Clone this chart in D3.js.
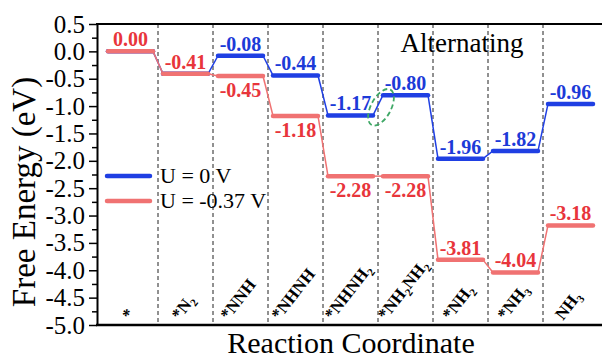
<!DOCTYPE html>
<html>
<head>
<meta charset="utf-8">
<script src="https://cdn.jsdelivr.net/npm/d3@7"></script>
<style>
  html, body { margin: 0; padding: 0; background: #fff; }
  svg { display: block; }
  svg text { font-family: "Liberation Serif", "Times New Roman", serif; }
</style>
</head>
<body>
<svg id="chart" width="602" height="359"></svg>
<script>
// Reaction intermediates along the alternating pathway
const categories = ["*", "*N2", "*NNH", "*NHNH", "*NHNH2", "*NH2NH2", "*NH2", "*NH3", "NH3"];
// Free energy of each intermediate (eV)
const energyU0 = [0.00, -0.41, -0.08, -0.44, -1.17, -0.80, -1.96, -1.82, -0.96];
const energyU037 = [0.00, -0.41, -0.45, -1.18, -2.28, -2.28, -3.81, -4.04, -3.18];
const seriesNames = ["U = 0 V", "U = -0.37 V"];
const yTicks = [0.5, 0.0, -0.5, -1.0, -1.5, -2.0, -2.5, -3.0, -3.5, -4.0, -4.5, -5.0];
const pathwayName = "Alternating";

const SERIF = "'Liberation Serif', 'Times New Roman', serif";
const svg = d3.select("#chart");
const plotLeft = 97, plotRight = 602, plotTop = 24, plotBottom = 325;

const BLUE = "#1f3fe3", BLUE_TXT = "#1c3ad8";
const RED = "#f07272", RED_TXT = "#e8353b";

const y = d3.scaleLinear().domain([-5, 0.5]).range([plotBottom, plotTop]);
const x = d3.scaleBand().domain(categories).range([103, 598]);
const inset = 5;

// column separators
svg.append("g").selectAll("line")
  .data(categories.slice(1))
  .join("line")
  .attr("x1", d => x(d)).attr("x2", d => x(d))
  .attr("y1", plotTop).attr("y2", plotBottom)
  .attr("stroke", "#222").attr("stroke-width", 1)
  .attr("stroke-dasharray", "4,3");

// axes
const fmt = d => d3.format(".1f")(d).replace("−", "-");
const minor = d3.range(0.25, -5, -0.5);
const yMinor = svg.append("g").attr("transform", `translate(${plotLeft},0)`)
  .call(d3.axisLeft(y).tickValues(minor).tickSize(5).tickFormat(""));
yMinor.select(".domain").remove();
yMinor.selectAll("line").attr("stroke", "#000").attr("stroke-width", 1.5);

const yAxis = svg.append("g").attr("transform", `translate(${plotLeft},0)`)
  .call(d3.axisLeft(y).tickValues(yTicks).tickSize(8).tickSizeOuter(0).tickPadding(4).tickFormat(fmt));
yAxis.attr("font-family", SERIF).attr("font-size", 25);
yAxis.select(".domain").attr("stroke", "#000").attr("stroke-width", 2);
yAxis.selectAll(".tick line").attr("stroke", "#000").attr("stroke-width", 1.5);
yAxis.selectAll(".tick text").attr("fill", "#000");

// frame top and bottom
svg.append("line").attr("x1", plotLeft - 1).attr("x2", plotRight).attr("y1", plotTop).attr("y2", plotTop)
  .attr("stroke", "#000").attr("stroke-width", 2);
svg.append("line").attr("x1", plotLeft - 1).attr("x2", plotRight).attr("y1", plotBottom).attr("y2", plotBottom)
  .attr("stroke", "#000").attr("stroke-width", 2.5);

// energy profile for one series
function drawProfile(values, color) {
  const g = svg.append("g");
  const pts = values.map((v, i) => ({ v, i, c: categories[i] }));
  g.selectAll("line.step").data(pts.slice(0, -1)).join("line")
    .attr("class", "step")
    .attr("x1", d => x(d.c) + x.bandwidth() - inset)
    .attr("y1", d => y(d.v))
    .attr("x2", d => x(categories[d.i + 1]) + inset)
    .attr("y2", d => y(values[d.i + 1]))
    .attr("stroke", color).attr("stroke-width", 1.5);
  g.selectAll("line.level").data(pts).join("line")
    .attr("class", "level")
    .attr("x1", d => x(d.c) + inset)
    .attr("x2", d => x(d.c) + x.bandwidth() - inset)
    .attr("y1", d => y(d.v)).attr("y2", d => y(d.v))
    .attr("stroke", color).attr("stroke-width", 4.5)
    .attr("stroke-linecap", "round");
}
drawProfile(energyU0, BLUE);
drawProfile(energyU037, RED);

// value labels
const valFmt = d => d3.format(".2f")(d).replace("−", "-");
const labels = svg.append("g")
  .attr("font-family", SERIF).attr("font-weight", "bold").attr("font-size", 20);
energyU0.forEach((v, i) => {
  if (v === energyU037[i]) return;
  labels.append("text")
    .attr("x", x(categories[i]) + x.bandwidth() / 2)
    .attr("y", y(v) - 5)
    .attr("text-anchor", "middle")
    .attr("fill", BLUE_TXT)
    .text(valFmt(v));
});
energyU037.forEach((v, i) => {
  // place the label beneath the level when the neutral level sits close above it
  const gap = energyU0[i] - v;
  const below = gap > 0 && gap < 1.6;
  labels.append("text")
    .attr("x", x(categories[i]) + x.bandwidth() / 2)
    .attr("y", below ? y(v) + 21 : y(v) - 5)
    .attr("text-anchor", "middle")
    .attr("fill", RED_TXT)
    .text(valFmt(v));
});

// highlight on the *NHNH2 -> *NH2NH2 step
const hx = (x(categories[4]) + x.bandwidth() - inset + x(categories[5]) + inset) / 2 + 3;
const hy = (y(energyU0[4]) + y(energyU0[5])) / 2 + 2;
svg.append("ellipse")
  .attr("transform", `translate(${hx},${hy}) rotate(-62)`)
  .attr("rx", 20).attr("ry", 10)
  .attr("fill", "none").attr("stroke", "#3fa866")
  .attr("stroke-width", 1.8).attr("stroke-dasharray", "5,3");

// category labels with subscripts, tilted up to the right
const tilt = 52;
const rad = tilt * Math.PI / 180;
const catG = svg.append("g")
  .attr("font-family", SERIF).attr("font-weight", "bold").attr("font-size", 17);
categories.forEach(c => {
  const t = catG.append("text").attr("fill", "#000");
  const parts = c.match(/[^0-9]+|[0-9]+/g);
  let shifted = false;
  parts.forEach(p => {
    if (/^[0-9]+$/.test(p)) {
      t.append("tspan").attr("dy", 4).attr("font-size", 11).text(p);
      shifted = true;
    } else {
      t.append("tspan").attr("dy", shifted ? -4 : 0).text(p);
      shifted = false;
    }
  });
  const L = t.node().getComputedTextLength();
  const cx = x(c) + x.bandwidth() / 2;
  const sx = cx - (L * Math.cos(rad)) / 2 + 2;
  const sy = 321;
  t.attr("x", sx).attr("y", sy)
   .attr("transform", `rotate(${-tilt} ${sx} ${sy})`);
});

// axis titles
svg.append("text")
  .attr("transform", `translate(35,192) rotate(-90)`)
  .attr("text-anchor", "middle")
  .attr("font-family", SERIF)
  .attr("font-size", 33)
  .text("Free Energy (eV)");
svg.append("text")
  .attr("x", 351).attr("y", 353)
  .attr("text-anchor", "middle")
  .attr("font-family", SERIF)
  .attr("font-size", 30)
  .text("Reaction Coordinate");

// pathway name
svg.append("text")
  .attr("x", 462).attr("y", 52)
  .attr("text-anchor", "middle")
  .attr("font-family", SERIF)
  .attr("font-size", 27)
  .text(pathwayName);

// legend
const legend = svg.append("g").attr("font-family", SERIF).attr("font-size", 22);
[BLUE, RED].forEach((col, i) => {
  const ly = 176 + i * 25;
  legend.append("line")
    .attr("x1", 107).attr("x2", 150).attr("y1", ly).attr("y2", ly)
    .attr("stroke", col).attr("stroke-width", 4.5).attr("stroke-linecap", "round");
  legend.append("text")
    .attr("x", 160).attr("y", ly + 7)
    .text(seriesNames[i]);
});
</script>
</body>
</html>
